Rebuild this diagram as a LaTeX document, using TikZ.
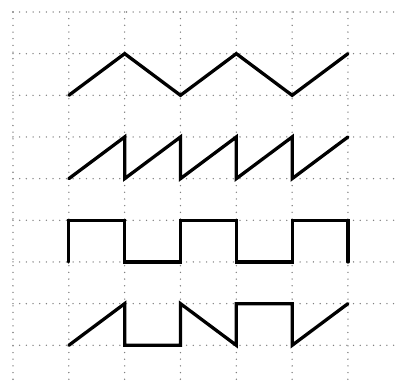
\documentclass[tikz,border=0pt]{standalone}
\begin{document}
\begin{tikzpicture}[x=1.675cm,y=-1.25cm,
  gridline/.style={draw=black!50,line width=1.3pt,dash pattern=on 0pt off 5.7pt,line cap=round},
  wave/.style={draw=black,line width=2.8pt,line join=miter,line cap=round}]
\useasboundingbox (-0.2328,-0.288) rectangle (6.932,8.904);
\foreach \k in {0,...,8} \draw[gridline] (0,\k) -- (6.932,\k);
\foreach \j in {0,...,6} \draw[gridline] (\j,0) -- (\j,8.904);
% triangle
\draw[wave] (1,2) -- (2,1) -- (3,2) -- (4,1) -- (5,2) -- (6,1);
% sawtooth
\draw[wave] (1,4) -- (2,3) -- (2,4) -- (3,3) -- (3,4) -- (4,3) -- (4,4) -- (5,3) -- (5,4) -- (6,3);
% square
\draw[wave] (1,6) -- (1,5) -- (2,5) -- (2,6) -- (3,6) -- (3,5) -- (4,5) -- (4,6) -- (5,6) -- (5,5) -- (6,5) -- (6,6);
% mixed
\draw[wave] (1,8) -- (2,7) -- (2,8) -- (3,8) -- (3,7) -- (4,8) -- (4,7) -- (5,7) -- (5,8) -- (6,7);
\end{tikzpicture}
\end{document}
